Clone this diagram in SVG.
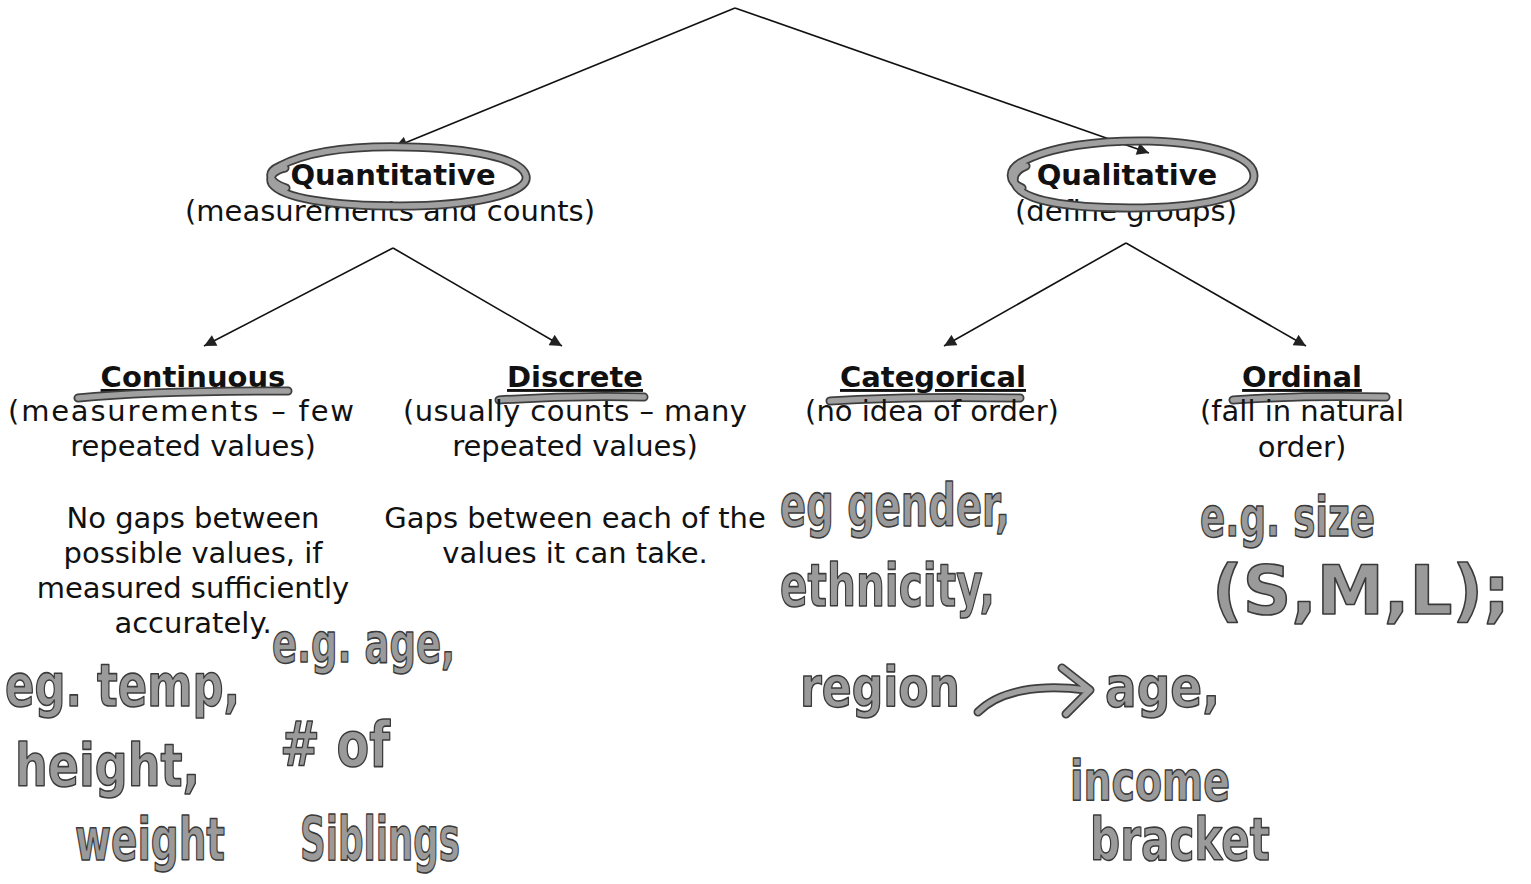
<svg xmlns="http://www.w3.org/2000/svg" width="1531" height="884" viewBox="0 0 1531 884">
<style>
.t{font-family:"DejaVu Sans","Liberation Sans",sans-serif;font-size:29px;fill:#111;text-anchor:middle}
.b{font-weight:bold}
.u{text-decoration:underline}
.hw{font-family:"DejaVu Sans","Liberation Sans",sans-serif;font-weight:bold;fill:#9a9a9a;stroke:#3a3a3a;stroke-width:1.6;stroke-linejoin:round}
.edge{stroke:#111;stroke-width:1.6;fill:none}
.mk1{fill:none;stroke:#3e3e3e;stroke-width:9;stroke-linecap:round;stroke-linejoin:round}
.mk2{fill:none;stroke:#a0a0a0;stroke-width:5.5;stroke-linecap:round;stroke-linejoin:round}
</style>
<defs>
<marker id="ah" viewBox="0 0 10 10" refX="10" refY="5" markerWidth="13" markerHeight="12" markerUnits="userSpaceOnUse" orient="auto">
<path d="M0,0 L10,5 L0,10 z" fill="#222"/>
</marker>
<path id="ellQn" d="M286,188 C268,182 266,172 280,166 C310,150 360,146 405,147 C470,148 522,158 526,176 C530,194 470,206 400,206 C330,206 282,198 272,184 C268,176 275,170 285,168"/>
<path id="ellQl" d="M1022,188 C1008,182 1008,170 1020,163 C1050,146 1100,140 1150,141 C1210,143 1254,156 1254,176 C1254,197 1200,208 1130,208 C1065,208 1022,200 1015,184 C1012,176 1016,170 1026,166"/>
<path id="ulCo" d="M78,398 C130,393 210,391 288,391"/>
<path id="ulDi" d="M499,400 C545,397 600,396 644,397"/>
<path id="ulCa" d="M830,401 C890,397 960,397 1020,398"/>
<path id="ulOr" d="M1233,400 C1290,396 1345,396 1386,397"/>
<path id="hwArrow" d="M978,712 C1000,690 1040,684 1086,690 M1062,668 L1090,690 L1066,714"/>
</defs>

<g id="connectors">
<line class="edge" x1="735" y1="8" x2="395" y2="147" marker-end="url(#ah)"/>
<line class="edge" x1="735" y1="8" x2="1149" y2="153" marker-end="url(#ah)"/>
<line class="edge" x1="393" y1="248" x2="204" y2="346" marker-end="url(#ah)"/>
<line class="edge" x1="393" y1="248" x2="562" y2="346" marker-end="url(#ah)"/>
<line class="edge" x1="1126" y1="243" x2="944" y2="346" marker-end="url(#ah)"/>
<line class="edge" x1="1126" y1="243" x2="1306" y2="346" marker-end="url(#ah)"/>
</g>

<g id="quantitative">
<text class="t b" x="393" y="185">Quantitative</text>
<text class="t" x="390" y="221">(measurements and counts)</text>
<use href="#ellQn" class="mk1"/><use href="#ellQn" class="mk2"/>
</g>

<g id="qualitative">
<text class="t b" x="1127" y="185">Qualitative</text>
<text class="t" x="1126" y="221">(define groups)</text>
<use href="#ellQl" class="mk1"/><use href="#ellQl" class="mk2"/>
</g>

<g id="continuous">
<text class="t b u" x="193" y="387">Continuous</text>
<use href="#ulCo" class="mk1"/><use href="#ulCo" class="mk2"/>
<text class="t" x="181" y="421" textLength="346">(measurements – few</text>
<text class="t" x="193" y="456">repeated values)</text>
<text class="t" x="193" y="528">No gaps between</text>
<text class="t" x="193" y="563">possible values, if</text>
<text class="t" x="193" y="598">measured sufficiently</text>
<text class="t" x="193" y="633">accurately.</text>
<text class="hw" x="5" y="706" font-size="58" textLength="235" lengthAdjust="spacingAndGlyphs">eg. temp,</text>
<text class="hw" x="15" y="786" font-size="58" textLength="185" lengthAdjust="spacingAndGlyphs">height,</text>
<text class="hw" x="75" y="860" font-size="58" textLength="150" lengthAdjust="spacingAndGlyphs">weight</text>
</g>

<g id="discrete">
<text class="t b u" x="575" y="387">Discrete</text>
<use href="#ulDi" class="mk1"/><use href="#ulDi" class="mk2"/>
<text class="t" x="575" y="421" textLength="344">(usually counts – many</text>
<text class="t" x="575" y="456">repeated values)</text>
<text class="t" x="575" y="528">Gaps between each of the</text>
<text class="t" x="575" y="563">values it can take.</text>
<text class="hw" x="272" y="662" font-size="56" textLength="183" lengthAdjust="spacingAndGlyphs">e.g. age,</text>
<text class="hw" x="280" y="766" font-size="62" textLength="110" lengthAdjust="spacingAndGlyphs"># of</text>
<text class="hw" x="300" y="860" font-size="60" textLength="160" lengthAdjust="spacingAndGlyphs">Siblings</text>
</g>

<g id="categorical">
<text class="t b u" x="933" y="387">Categorical</text>
<use href="#ulCa" class="mk1"/><use href="#ulCa" class="mk2"/>
<text class="t" x="932" y="421">(no idea of order)</text>
<text class="hw" x="780" y="526" font-size="58" textLength="230" lengthAdjust="spacingAndGlyphs">eg gender,</text>
<text class="hw" x="780" y="606" font-size="58" textLength="215" lengthAdjust="spacingAndGlyphs">ethnicity,</text>
<text class="hw" x="800" y="706" font-size="56" textLength="160" lengthAdjust="spacingAndGlyphs">region</text>
<use href="#hwArrow" class="mk1"/><use href="#hwArrow" class="mk2"/>
</g>

<g id="ordinal">
<text class="t b u" x="1302" y="387">Ordinal</text>
<use href="#ulOr" class="mk1"/><use href="#ulOr" class="mk2"/>
<text class="t" x="1302" y="421">(fall in natural</text>
<text class="t" x="1302" y="457">order)</text>
<text class="hw" x="1200" y="536" font-size="56" textLength="175" lengthAdjust="spacingAndGlyphs">e.g. size</text>
<text class="hw" x="1212" y="614" font-size="68" textLength="298" lengthAdjust="spacingAndGlyphs">(S,M,L);</text>
<text class="hw" x="1105" y="706" font-size="56" textLength="115" lengthAdjust="spacingAndGlyphs">age,</text>
<text class="hw" x="1070" y="800" font-size="56" textLength="160" lengthAdjust="spacingAndGlyphs">income</text>
<text class="hw" x="1090" y="860" font-size="58" textLength="180" lengthAdjust="spacingAndGlyphs">bracket</text>
</g>
</svg>
